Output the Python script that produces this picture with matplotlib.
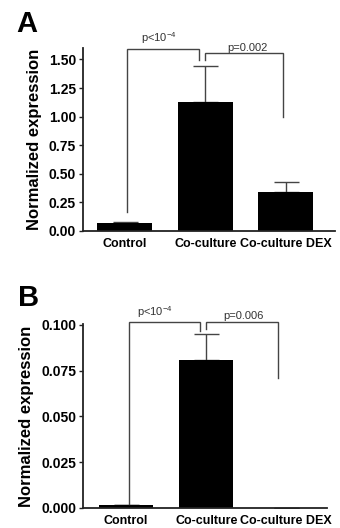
import matplotlib
matplotlib.use("Agg")
import matplotlib.pyplot as plt
import numpy as np

plt.rcParams["font.family"] = ["Liberation Sans", "DejaVu Sans"]
plt.rcParams["mathtext.fontset"] = "custom"
plt.rcParams["mathtext.rm"] = "Liberation Sans"

# ── data ────────────────────────────────────────────────────────────────
groups = ["Control", "Co-culture", "Co-culture DEX"]

a_means = [0.067, 1.125, 0.344]
a_err = [0.011, 0.315, 0.088]
a_ticks = [0.00, 0.25, 0.50, 0.75, 1.00, 1.25, 1.50]
a_pvals = [r"p<10$^{-4}$", "p=0.002"]

b_means = [0.0015, 0.0811, 0.0002]
b_err = [0.0002, 0.0138, 0.0]
b_ticks = [0.000, 0.025, 0.050, 0.075, 0.100]
b_pvals = [r"p<10$^{-4}$", "p=0.006"]

BAR_COLOR = "#000000"
LINE_COLOR = "#444444"
SPINE_COLOR = "#222222"


def bracket(ax, x0, x1, y_top, y0, y1, text, tx, ty):
    ax.plot([x0, x0, x1, x1], [y0, y_top, y_top, y1], color=LINE_COLOR,
            lw=1.0, clip_on=False, solid_joinstyle="miter")
    ax.text(tx, ty, text, ha="center", va="bottom", fontsize=8,
            color="#333333")


def draw_panel(ax, means, err, ticks, fmt, ylim, xlim):
    x = np.arange(len(groups))
    ax.bar(x, means, width=0.68, color=BAR_COLOR, zorder=2)
    ax.errorbar(x, means, yerr=[np.zeros(len(err)), err], fmt="none",
                ecolor=LINE_COLOR, elinewidth=1.0, capsize=9, capthick=1.0,
                zorder=1)
    ax.set_xlim(*xlim)
    ax.set_ylim(*ylim)
    ax.set_xticks(x)
    ax.set_xticklabels(groups, fontsize=9, fontweight="bold")
    ax.set_yticks(ticks)
    ax.set_yticklabels([fmt.format(t) for t in ticks], fontsize=10,
                       fontweight="bold")
    ax.tick_params(axis="x", length=0, pad=5)
    ax.tick_params(axis="y", length=3, width=1.0, pad=2, color=SPINE_COLOR)
    ax.spines[["top", "right"]].set_visible(False)
    for s in ("left", "bottom"):
        ax.spines[s].set_linewidth(1.3)
        ax.spines[s].set_color(SPINE_COLOR)
    ax.set_ylabel("Normalized expression", fontsize=12, fontweight="bold",
                  labelpad=5)


fig = plt.figure(figsize=(3.4, 5.28), dpi=100)

ax_a = fig.add_axes([0.244, 0.5625, 0.741, 0.3466])
draw_panel(ax_a, a_means, a_err, a_ticks, "{:.2f}", (0, 1.6), (-0.52, 2.61))
bracket(ax_a, 0.03, 0.92, 1.588, 0.17, 1.495, a_pvals[0], 0.42, 1.615)
bracket(ax_a, 0.99, 1.97, 1.553, 1.495, 1.0, a_pvals[1], 1.52, 1.56)

ax_b = fig.add_axes([0.244, 0.0379, 0.718, 0.3485])
draw_panel(ax_b, b_means, b_err, b_ticks, "{:.3f}", (0, 0.1005), (-0.54, 2.51))
bracket(ax_b, 0.03, 0.92, 0.1018, 0.0024, 0.0967, b_pvals[0], 0.36, 0.1028)
bracket(ax_b, 1.0, 1.9, 0.1018, 0.0976, 0.0711, b_pvals[1], 1.46, 0.1020)

fig.text(0.049, 1 - 31.7 / 528, "A", fontsize=21, fontweight="bold",
         va="baseline")
fig.text(0.052, 1 - 306.5 / 528, "B", fontsize=21, fontweight="bold",
         va="baseline")

fig.savefig("out.png", dpi=100)
